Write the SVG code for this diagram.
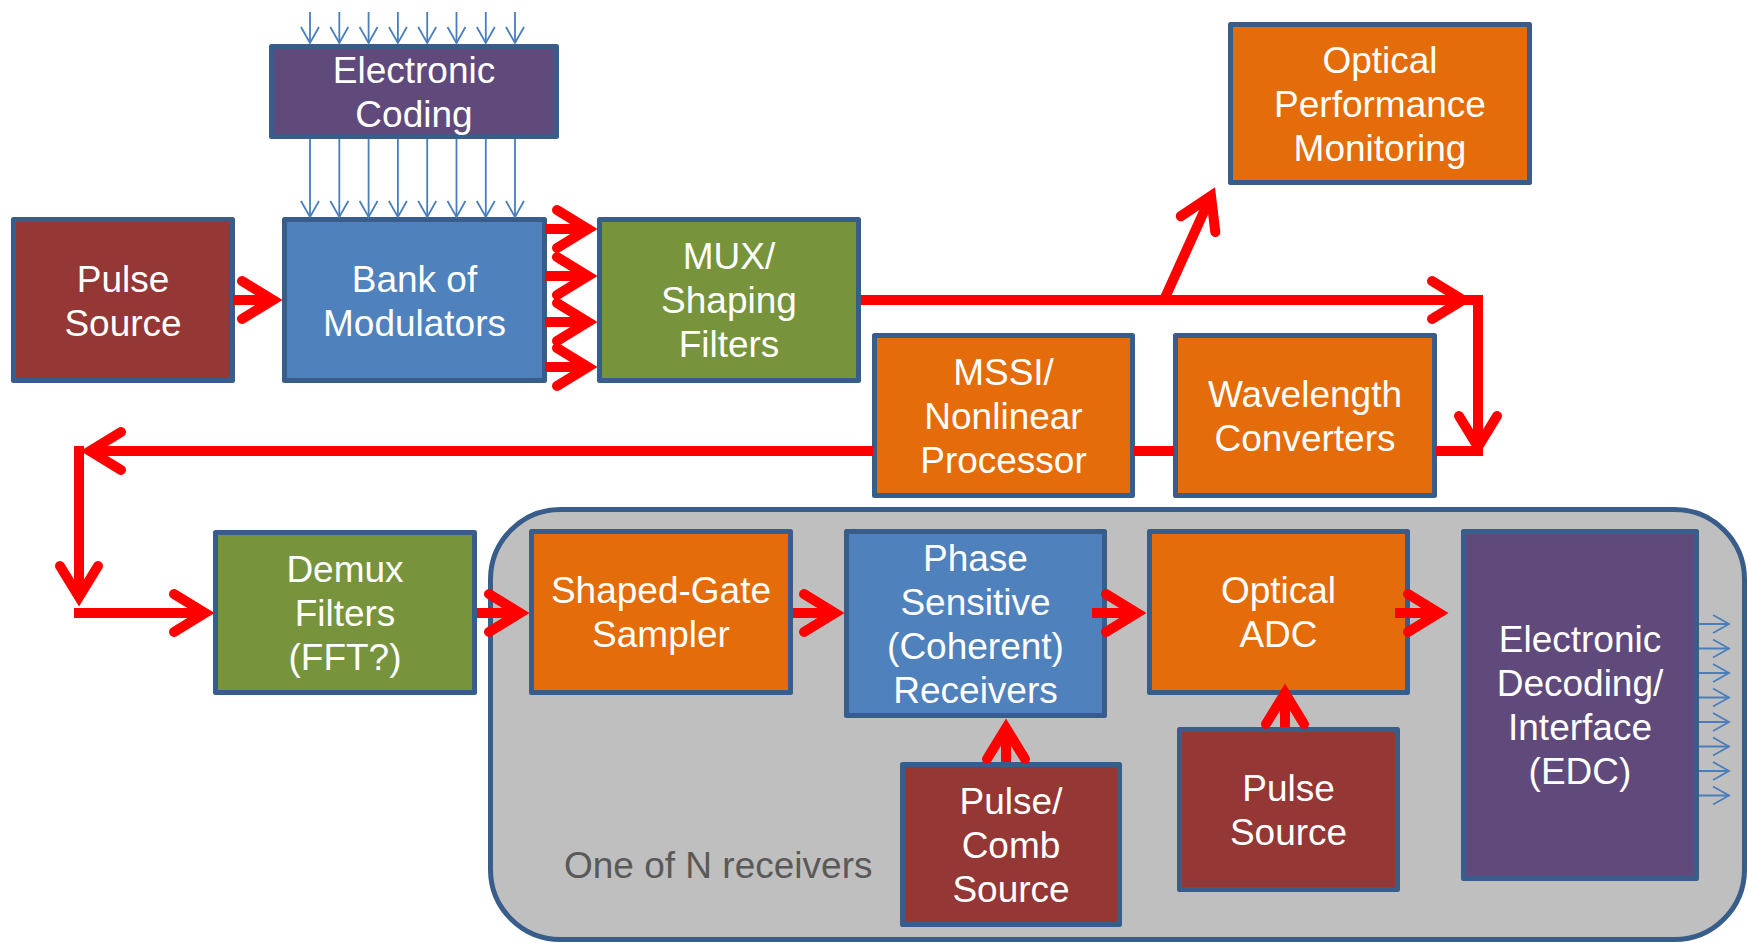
<svg xmlns="http://www.w3.org/2000/svg" xmlns:xlink="http://www.w3.org/1999/xlink" width="1748" height="943" viewBox="0 0 1748 943">
<style>
.box{stroke:#385D8A;stroke-width:5;stroke-linejoin:round}
.red{fill:#953735}.blue{fill:#4F81BD}.green{fill:#77933C}.orange{fill:#E46C0A}.purple{fill:#604A7B}
.t{font-family:"Liberation Sans",Arial,sans-serif;font-size:37px;fill:#FFFFFF;text-anchor:middle}
.note{font-family:"Liberation Sans",Arial,sans-serif;font-size:37px;fill:#595959}
.rl{fill:none;stroke:#FF0000;stroke-width:10;stroke-linecap:butt}
.rh{fill:none;stroke:#FF0000;stroke-width:10;stroke-linecap:round;stroke-linejoin:miter;stroke-miterlimit:10}
.bl{fill:none;stroke:#4A7EBB;stroke-width:1.8}
</style>
<defs>
<path id="ch" d="M-31,-19 L0,0 L-31,19"/>
<path id="sc" d="M-16,-9 L0,0 L-16,9"/>
</defs>
<rect id="container" x="490.5" y="509.5" width="1254" height="430" rx="70" ry="70" fill="#BFBFBF" stroke="#385D8A" stroke-width="5"/>
<text class="note" x="564" y="878">One of N receivers</text>
<g id="n-pulse1"><rect class="box red" x="13.5" y="219.5" width="219" height="161"/><text class="t" x="123" y="291.5">Pulse</text><text class="t" x="123" y="335.5">Source</text></g>
<g id="n-bank"><rect class="box blue" x="284.5" y="219.5" width="260" height="161"/><text class="t" x="414.5" y="291.5">Bank of</text><text class="t" x="414.5" y="335.5">Modulators</text></g>
<g id="n-mux"><rect class="box green" x="599.5" y="219.5" width="259" height="161"/><text class="t" x="729" y="269">MUX/</text><text class="t" x="729" y="313">Shaping</text><text class="t" x="729" y="357">Filters</text></g>
<g id="n-ecoding"><rect class="box purple" x="271.5" y="46.5" width="285" height="90"/><text class="t" x="414" y="82.5">Electronic</text><text class="t" x="414" y="126.5">Coding</text></g>
<g id="n-opm"><rect class="box orange" x="1230.5" y="24.5" width="299" height="158"/><text class="t" x="1380" y="72.5">Optical</text><text class="t" x="1380" y="116.5">Performance</text><text class="t" x="1380" y="160.5">Monitoring</text></g>
<g id="n-mssi"><rect class="box orange" x="874.5" y="335.5" width="258" height="160"/><text class="t" x="1003.5" y="384.5">MSSI/</text><text class="t" x="1003.5" y="428.5">Nonlinear</text><text class="t" x="1003.5" y="472.5">Processor</text></g>
<g id="n-wc"><rect class="box orange" x="1175.5" y="335.5" width="259" height="160"/><text class="t" x="1305" y="406.5">Wavelength</text><text class="t" x="1305" y="450.5">Converters</text></g>
<g id="n-demux"><rect class="box green" x="215.5" y="532.5" width="259" height="160"/><text class="t" x="345" y="581.5">Demux</text><text class="t" x="345" y="625.5">Filters</text><text class="t" x="345" y="669.5">(FFT?)</text></g>
<g id="n-sgs"><rect class="box orange" x="531.5" y="531.5" width="259" height="161"/><text class="t" x="661" y="603">Shaped-Gate</text><text class="t" x="661" y="647">Sampler</text></g>
<g id="n-psr"><rect class="box blue" x="846.5" y="531.5" width="258" height="184"/><text class="t" x="975.5" y="570.5">Phase</text><text class="t" x="975.5" y="614.5">Sensitive</text><text class="t" x="975.5" y="658.5">(Coherent)</text><text class="t" x="975.5" y="702.5">Receivers</text></g>
<g id="n-adc"><rect class="box orange" x="1149.5" y="531.5" width="258" height="161"/><text class="t" x="1278.5" y="603">Optical</text><text class="t" x="1278.5" y="647">ADC</text></g>
<g id="n-pcs"><rect class="box red" x="902.5" y="764.5" width="217" height="160"/><text class="t" x="1011" y="813.5">Pulse/</text><text class="t" x="1011" y="857.5">Comb</text><text class="t" x="1011" y="901.5">Source</text></g>
<g id="n-pulse2"><rect class="box red" x="1179.5" y="729.5" width="218" height="160"/><text class="t" x="1288.5" y="800.5">Pulse</text><text class="t" x="1288.5" y="844.5">Source</text></g>
<g id="n-edc"><rect class="box purple" x="1463.5" y="531.5" width="233" height="347"/><text class="t" x="1580" y="652">Electronic</text><text class="t" x="1580" y="696">Decoding/</text><text class="t" x="1580" y="740">Interface</text><text class="t" x="1580" y="784">(EDC)</text></g>
<g id="connectors">
<path class="bl" d="M310,12V43M339.3,12V43M368.6,12V43M397.9,12V43M427.2,12V43M456.5,12V43M485.8,12V43M515,12V43M310,139V217M339.3,139V217M368.6,139V217M397.9,139V217M427.2,139V217M456.5,139V217M485.8,139V217M515,139V217M1699,624H1729M1699,648.5H1729M1699,673H1729M1699,697.5H1729M1699,722H1729M1699,746.5H1729M1699,771H1729M1699,795.5H1729"/>
<g class="bl">
<use xlink:href="#sc" transform="translate(310,43) rotate(90)"/><use xlink:href="#sc" transform="translate(339.3,43) rotate(90)"/><use xlink:href="#sc" transform="translate(368.6,43) rotate(90)"/><use xlink:href="#sc" transform="translate(397.9,43) rotate(90)"/><use xlink:href="#sc" transform="translate(427.2,43) rotate(90)"/><use xlink:href="#sc" transform="translate(456.5,43) rotate(90)"/><use xlink:href="#sc" transform="translate(485.8,43) rotate(90)"/><use xlink:href="#sc" transform="translate(515,43) rotate(90)"/>
<use xlink:href="#sc" transform="translate(310,217) rotate(90)"/><use xlink:href="#sc" transform="translate(339.3,217) rotate(90)"/><use xlink:href="#sc" transform="translate(368.6,217) rotate(90)"/><use xlink:href="#sc" transform="translate(397.9,217) rotate(90)"/><use xlink:href="#sc" transform="translate(427.2,217) rotate(90)"/><use xlink:href="#sc" transform="translate(456.5,217) rotate(90)"/><use xlink:href="#sc" transform="translate(485.8,217) rotate(90)"/><use xlink:href="#sc" transform="translate(515,217) rotate(90)"/>
<use xlink:href="#sc" transform="translate(1729,624)"/><use xlink:href="#sc" transform="translate(1729,648.5)"/><use xlink:href="#sc" transform="translate(1729,673)"/><use xlink:href="#sc" transform="translate(1729,697.5)"/><use xlink:href="#sc" transform="translate(1729,722)"/><use xlink:href="#sc" transform="translate(1729,746.5)"/><use xlink:href="#sc" transform="translate(1729,771)"/><use xlink:href="#sc" transform="translate(1729,795.5)"/>
</g>
<path class="rl" d="M233,300H273M545,229H588M545,276H588M545,322H588M545,367H588M861,300H1483M1478,295V447M1164,300L1211,196M1483,451H1436M1174,451H1134M873,451H90M79,446V597M74,613H205M477,613H520M793,613H835M1092,613H1137M1395,613H1439M1006,762V728M1285,727V693"/>
<g class="rh">
<use xlink:href="#ch" transform="translate(273,300)"/>
<use xlink:href="#ch" transform="translate(588,229)"/><use xlink:href="#ch" transform="translate(588,276)"/><use xlink:href="#ch" transform="translate(588,322)"/><use xlink:href="#ch" transform="translate(588,367)"/>
<use xlink:href="#ch" transform="translate(1463,300)"/>
<use xlink:href="#ch" transform="translate(1211,196) rotate(-65.3)"/>
<use xlink:href="#ch" transform="translate(1478,447) rotate(90)"/>
<use xlink:href="#ch" transform="translate(90,451) rotate(180)"/>
<use xlink:href="#ch" transform="translate(79,597) rotate(90)"/>
<use xlink:href="#ch" transform="translate(205,613)"/>
<use xlink:href="#ch" transform="translate(520,613)"/>
<use xlink:href="#ch" transform="translate(835,613)"/>
<use xlink:href="#ch" transform="translate(1137,613)"/>
<use xlink:href="#ch" transform="translate(1439,613)"/>
<use xlink:href="#ch" transform="translate(1006,728) rotate(-90)"/>
<use xlink:href="#ch" transform="translate(1285,693) rotate(-90)"/>
</g>
</g>
</svg>
